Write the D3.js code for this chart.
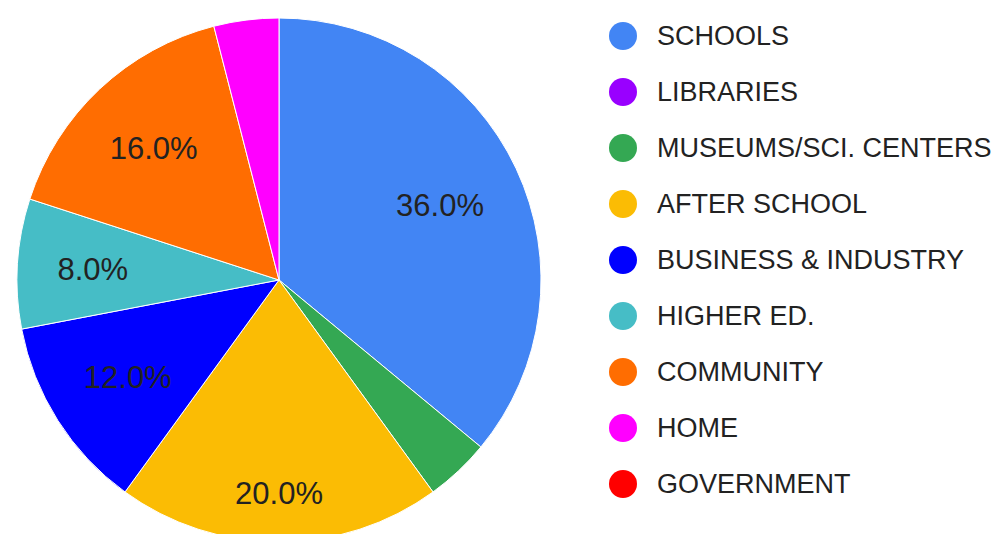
<!DOCTYPE html>
<html>
<head>
<meta charset="utf-8">
<script src="https://cdn.jsdelivr.net/npm/d3@7"></script>
<style>
  body { margin: 0; background: #fff; }
  svg { display: block; font-family: "Liberation Sans", Arial, sans-serif; }
</style>
</head>
<body>
<svg id="chart"></svg>
<script>
const categories = ["SCHOOLS", "LIBRARIES", "MUSEUMS/SCI. CENTERS", "AFTER SCHOOL",
  "BUSINESS & INDUSTRY", "HIGHER ED.", "COMMUNITY", "HOME", "GOVERNMENT"];
const values = [36, 0, 4, 20, 12, 8, 16, 4, 0];
const colors = ["#4285F4", "#9900FF", "#34A853", "#FBBC04", "#0000FF",
  "#46BDC6", "#FF6D01", "#FF00FF", "#FF0000"];

const width = 1004, height = 534;
const cx = 279, cy = 280, radius = 262;
const labelFont = 31;
const minLabelShare = 0.05; // small slices get no label

const data = categories.map((c, i) => ({ name: c, value: values[i], color: colors[i] }));
const total = d3.sum(values);

const svg = d3.select('#chart')
  .attr('width', width)
  .attr('height', height);

const g = svg.append('g')
  .attr('transform', `translate(${cx},${cy})`);

const pie = d3.pie()
  .sort(null)
  .value(d => d.value);

const arc = d3.arc()
  .innerRadius(0)
  .outerRadius(radius);

const arcs = pie(data).filter(d => d.data.value > 0);

g.selectAll('path.slice')
  .data(arcs)
  .enter().append('path')
  .attr('class', 'slice')
  .attr('d', arc)
  .attr('fill', d => d.data.color)
  .attr('stroke', '#fff')
  .attr('stroke-width', 1);

// labels: push the box out along the bisector until its far corner sits at 0.85r
const outer = radius * 0.85;
const labels = g.selectAll('text.pct')
  .data(arcs.filter(d => d.data.value / total >= minLabelShare))
  .enter().append('text')
  .attr('class', 'pct')
  .attr('font-size', labelFont)
  .attr('fill', '#222')
  .attr('text-anchor', 'middle')
  .text(d => (d.data.value / total * 100).toFixed(1) + '%');

labels.each(function (d) {
  const w = this.getComputedTextLength();
  const h = labelFont * 0.72;
  const a = (d.startAngle + d.endAngle) / 2;
  const ux = Math.sin(a), uy = -Math.cos(a);
  const c = [Math.sign(Math.round(ux * 1000)) * w / 2, Math.sign(Math.round(uy * 1000)) * h / 2];
  const ud = ux * c[0] + uy * c[1];
  const cc = c[0] * c[0] + c[1] * c[1];
  const t = -ud + Math.sqrt(ud * ud - cc + outer * outer);
  d3.select(this)
    .attr('x', t * ux)
    .attr('y', t * uy + h / 2 + 1);
});

// legend
const legend = svg.append('g')
  .attr('transform', 'translate(623,36)');

const rows = legend.selectAll('g.row')
  .data(data)
  .enter().append('g')
  .attr('class', 'row')
  .attr('transform', (d, i) => `translate(0,${i * 56})`);

rows.append('circle')
  .attr('r', 14)
  .attr('fill', d => d.color);

rows.append('text')
  .attr('x', 34)
  .attr('y', 9)
  .attr('font-size', 27)
  .attr('fill', '#222')
  .text(d => d.name);
</script>
</body>
</html>
